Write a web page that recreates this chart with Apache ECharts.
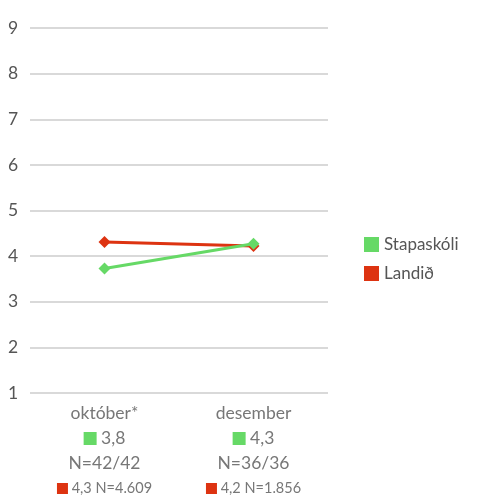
<!DOCTYPE html>
<html><head><meta charset="utf-8">
<script src="https://cdn.jsdelivr.net/npm/echarts@6/dist/echarts.min.js"></script>
<style>html,body{margin:0;padding:0;background:#fff}#c{width:481px;height:496px}</style>
</head><body><div id="c"></div>
<script>
var categories = ['október*', 'desember'];
var seriesNames = ['Stapaskóli', 'Landið'];
var schoolValues = [3.73, 4.27];
var nationValues = [4.31, 4.22];
var schoolLabels = ['3,8', '4,3'];
var schoolN = ['N=42/42', 'N=36/36'];
var nationLabels = ['4,3 N=4.609', '4,2 N=1.856'];
var yTicks = [1, 2, 3, 4, 5, 6, 7, 8, 9];

var GREEN = '#66d966';
var RED = '#dd3311';
var chart = echarts.init(document.getElementById('c'));
chart.setOption({
  animation: false,
  textStyle: { fontFamily: 'Lato, "Open Sans", sans-serif' },
  grid: { left: 30, right: 153, top: 28, bottom: 101 },
  legend: {
    orient: 'vertical', left: 359, top: 231, itemGap: 12,
    itemWidth: 15, itemHeight: 15, icon: 'rect',
    textStyle: { fontSize: 17, color: '#555' },
    data: seriesNames
  },
  xAxis: {
    type: 'category', data: categories, boundaryGap: true,
    axisLine: { show: false }, axisTick: { show: false },
    axisLabel: {
      margin: 8, interval: 0,
      formatter: function (v, i) {
        return '{cat|' + v + '}\n{gs| }{val| ' + schoolLabels[i] + '}\n{val|' + schoolN[i] + '}\n{rs| }{sm| ' + nationLabels[i] + '}';
      },
      rich: {
        cat: { fontSize: 17.5, color: '#777', lineHeight: 25 },
        gs: { width: 13, height: 13, backgroundColor: GREEN, lineHeight: 25 },
        val: { fontSize: 17.5, color: '#777', lineHeight: 25 },
        rs: { width: 11, height: 11, backgroundColor: RED, lineHeight: 25 },
        sm: { fontSize: 14.5, color: '#777', lineHeight: 25 }
      }
    }
  },
  yAxis: {
    type: 'value', min: 1, max: 9, interval: 1,
    axisLine: { show: false }, axisTick: { show: false },
    axisLabel: { fontSize: 17.5, color: '#555', margin: 22, align: 'left', padding: [0, 0, 14, 0],
      formatter: function (v) { return yTicks.indexOf(v) >= 0 ? String(v) : ''; } },
    splitLine: { lineStyle: { color: '#d9d9d9', width: 2 } }
  },
  series: [
    { name: seriesNames[1], type: 'line', data: nationValues, symbol: 'diamond', symbolSize: 12,
      itemStyle: { color: RED }, lineStyle: { color: RED, width: 3 }, z: 2 },
    { name: seriesNames[0], type: 'line', data: schoolValues, symbol: 'diamond', symbolSize: 12,
      itemStyle: { color: GREEN }, lineStyle: { color: GREEN, width: 3 }, z: 3 }
  ]
});
</script></body></html>
